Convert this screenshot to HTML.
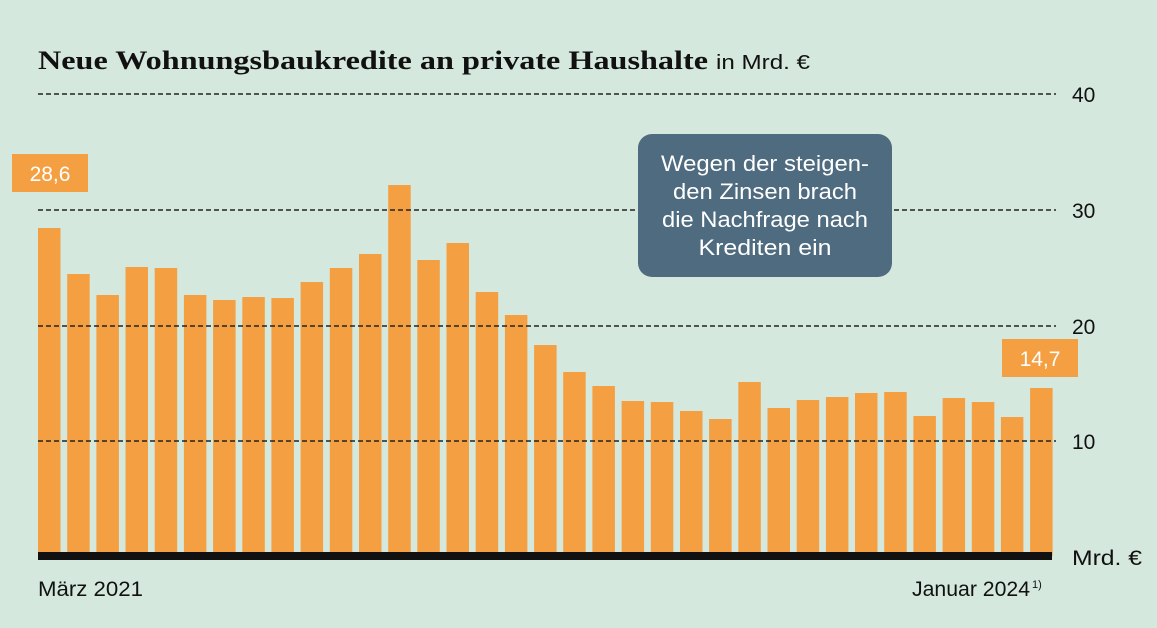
<!DOCTYPE html>
<html><head><meta charset="utf-8"><style>
body{margin:0;background:#d5e8de;}
svg{display:block}
</style></head><body>
<svg width="1157" height="628" xmlns="http://www.w3.org/2000/svg">
<rect width="1157" height="628" fill="#d5e8de"/>
<text x="38" y="69" font-family="Liberation Serif, serif" font-weight="bold" font-size="26" fill="#111" textLength="670" lengthAdjust="spacingAndGlyphs">Neue Wohnungsbaukredite an private Haushalte</text>
<text x="716" y="69" font-family="Liberation Sans, sans-serif" font-size="20" fill="#111" textLength="94" lengthAdjust="spacingAndGlyphs">in Mrd. €</text>
<g font-family="Liberation Sans, sans-serif" font-size="21" fill="#111">
<text x="1072" y="102">40</text><text x="1072" y="218">30</text><text x="1072" y="334">20</text><text x="1072" y="449">10</text>
<text x="1072" y="565" textLength="70" lengthAdjust="spacingAndGlyphs">Mrd. €</text>
<text x="38" y="596" textLength="105" lengthAdjust="spacingAndGlyphs">März 2021</text>
<text x="912" y="596" textLength="118" lengthAdjust="spacingAndGlyphs">Januar 2024</text>
<text x="1032" y="588" font-size="11">1)</text>
</g>
<g fill="#f4a042">
<rect x="38" y="228" width="22.5" height="328"/>
<rect x="67.2" y="274" width="22.5" height="282"/>
<rect x="96.4" y="295" width="22.5" height="261"/>
<rect x="125.5" y="267" width="22.5" height="289"/>
<rect x="154.7" y="268" width="22.5" height="288"/>
<rect x="183.9" y="295" width="22.5" height="261"/>
<rect x="213.1" y="300" width="22.5" height="256"/>
<rect x="242.3" y="297" width="22.5" height="259"/>
<rect x="271.4" y="298" width="22.5" height="258"/>
<rect x="300.6" y="282" width="22.5" height="274"/>
<rect x="329.8" y="268" width="22.5" height="288"/>
<rect x="359.0" y="254" width="22.5" height="302"/>
<rect x="388.2" y="185" width="22.5" height="371"/>
<rect x="417.3" y="260" width="22.5" height="296"/>
<rect x="446.5" y="243" width="22.5" height="313"/>
<rect x="475.7" y="292" width="22.5" height="264"/>
<rect x="504.9" y="315" width="22.5" height="241"/>
<rect x="534.1" y="345" width="22.5" height="211"/>
<rect x="563.2" y="372" width="22.5" height="184"/>
<rect x="592.4" y="386" width="22.5" height="170"/>
<rect x="621.6" y="401" width="22.5" height="155"/>
<rect x="650.8" y="402" width="22.5" height="154"/>
<rect x="680.0" y="411" width="22.5" height="145"/>
<rect x="709.1" y="419" width="22.5" height="137"/>
<rect x="738.3" y="382" width="22.5" height="174"/>
<rect x="767.5" y="408" width="22.5" height="148"/>
<rect x="796.7" y="400" width="22.5" height="156"/>
<rect x="825.9" y="397" width="22.5" height="159"/>
<rect x="855.0" y="393" width="22.5" height="163"/>
<rect x="884.2" y="392" width="22.5" height="164"/>
<rect x="913.4" y="416" width="22.5" height="140"/>
<rect x="942.6" y="398" width="22.5" height="158"/>
<rect x="971.8" y="402" width="22.5" height="154"/>
<rect x="1000.9" y="417" width="22.5" height="139"/>
<rect x="1030.1" y="388" width="22.5" height="168"/>
</g>
<g stroke="#222" stroke-width="1.5" stroke-dasharray="5,3">
<line x1="38" y1="94" x2="1056" y2="94"/>
<line x1="38" y1="210" x2="1056" y2="210"/>
<line x1="38" y1="326" x2="1056" y2="326"/>
<line x1="38" y1="441" x2="1056" y2="441"/>
</g>
<rect x="38" y="552" width="1014" height="8" fill="#111"/>
<rect x="12" y="154" width="76" height="38" fill="#f4a042"/>
<text x="50" y="181" text-anchor="middle" font-family="Liberation Sans, sans-serif" font-size="21" fill="#fff">28,6</text>
<rect x="1002" y="339" width="76" height="38" fill="#f4a042"/>
<text x="1040" y="366" text-anchor="middle" font-family="Liberation Sans, sans-serif" font-size="21" fill="#fff">14,7</text>
<rect x="638" y="134" width="254" height="143" rx="14" fill="#4f6b7f"/>
<g font-family="Liberation Sans, sans-serif" font-size="22" fill="#fff" text-anchor="middle">
<text x="765" y="171" textLength="208" lengthAdjust="spacingAndGlyphs">Wegen der steigen-</text>
<text x="765" y="199" textLength="184" lengthAdjust="spacingAndGlyphs">den Zinsen brach</text>
<text x="765" y="227" textLength="206" lengthAdjust="spacingAndGlyphs">die Nachfrage nach</text>
<text x="765" y="255" textLength="133" lengthAdjust="spacingAndGlyphs">Krediten ein</text>
</g>
</svg>
</body></html>
